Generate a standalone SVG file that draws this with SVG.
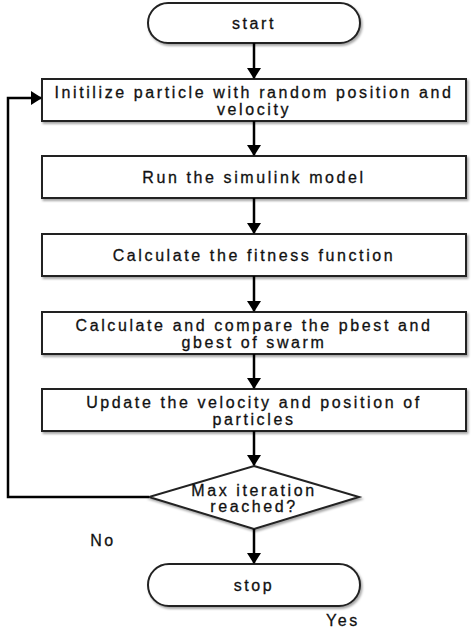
<svg xmlns="http://www.w3.org/2000/svg" width="474" height="630" viewBox="0 0 474 630">
<defs>
<marker id="ah" markerWidth="11" markerHeight="14" refX="10" refY="7" orient="auto" markerUnits="userSpaceOnUse" viewBox="0 0 11 14">
<path d="M0,0 L11,7 L0,14 z" fill="#000"/>
</marker>
<filter id="sh" x="-5%" y="-5%" width="115%" height="130%">
<feDropShadow dx="1.5" dy="2" stdDeviation="1" flood-color="#000" flood-opacity="0.35"/>
</filter>
</defs>
<style>
.box{fill:#fff;stroke:#222;stroke-width:2;filter:url(#sh)}
.t{font-family:"Liberation Sans",Arial,sans-serif;font-size:16px;fill:#111;stroke:#111;stroke-width:0.3;text-anchor:middle;letter-spacing:2.6px}
.c{fill:none;stroke:#000;stroke-width:2.5}
</style>
<rect width="474" height="630" fill="#fff"/>
<g id="start"><rect class="box" x="148" y="3" width="212" height="40" rx="20"/><text class="t" x="254" y="29">start</text></g>
<g id="init"><rect class="box" x="42" y="79" width="424" height="42"/><text class="t" x="254" y="98">Initilize particle with random position and</text><text class="t" x="254" y="115">velocity</text></g>
<g id="run"><rect class="box" x="42" y="156" width="424" height="42"/><text class="t" x="254" y="183">Run the simulink model</text></g>
<g id="fit"><rect class="box" x="42" y="234" width="424" height="42"/><text class="t" x="254" y="261">Calculate the fitness function</text></g>
<g id="cmp"><rect class="box" x="42" y="312" width="424" height="42"/><text class="t" x="254" y="331">Calculate and compare the pbest and</text><text class="t" x="254" y="348">gbest of swarm</text></g>
<g id="upd"><rect class="box" x="42" y="389" width="424" height="42"/><text class="t" x="254" y="408">Update the velocity and position of</text><text class="t" x="254" y="425">particles</text></g>
<g id="dec"><polygon class="box" points="254,466 359,497 254,529 149,497"/><text class="t" x="254" y="496">Max iteration</text><text class="t" x="254" y="512">reached?</text></g>
<g id="stop"><rect class="box" x="148" y="564" width="212" height="42" rx="21"/><text class="t" x="254" y="591">stop</text></g>
<g id="connectors">
<line class="c" x1="254" y1="43" x2="254" y2="78" marker-end="url(#ah)"/>
<line class="c" x1="254" y1="121" x2="254" y2="155" marker-end="url(#ah)"/>
<line class="c" x1="254" y1="198" x2="254" y2="233" marker-end="url(#ah)"/>
<line class="c" x1="254" y1="276" x2="254" y2="311" marker-end="url(#ah)"/>
<line class="c" x1="254" y1="354" x2="254" y2="388" marker-end="url(#ah)"/>
<line class="c" x1="254" y1="431" x2="254" y2="465" marker-end="url(#ah)"/>
<line class="c" x1="254" y1="529" x2="254" y2="563" marker-end="url(#ah)"/>
<polyline class="c" points="149,497 8,497 8,98 41,98" marker-end="url(#ah)"/>
</g>
<text class="t" x="103" y="546">No</text>
<text class="t" x="343" y="626">Yes</text>
</svg>
